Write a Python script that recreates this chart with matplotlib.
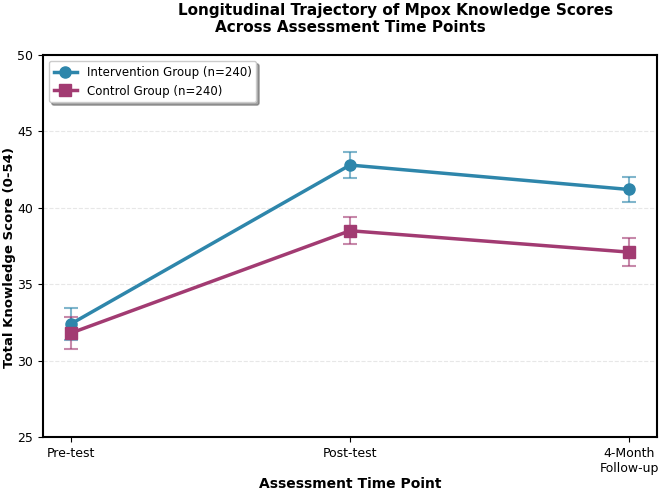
import numpy as np
import matplotlib.pyplot as plt

time_points = ["Pre-test", "Post-test", "4-Month\nFollow-up"]
intervention_mean = [32.4, 42.8, 41.2]
intervention_err = [1.05, 0.85, 0.85]
control_mean = [31.8, 38.5, 37.1]
control_err = [1.05, 0.9, 0.9]

blue = "#2E86AB"
purple = "#A23B72"

fig = plt.figure(figsize=(6.62, 4.92), dpi=100)
ax = fig.add_axes([0.065, 0.112, 0.9275, 0.776])

x = np.arange(len(time_points))

# lines + markers
ax.plot(x, intervention_mean, color=blue, marker="o", markersize=8, linewidth=2.5,
        label="Intervention Group (n=240)", zorder=3)
ax.plot(x, control_mean, color=purple, marker="s", markersize=8, linewidth=2.5,
        label="Control Group (n=240)", zorder=3)
# error bars, a bit lighter
ax.errorbar(x, intervention_mean, yerr=intervention_err, fmt="none", ecolor=blue,
            capsize=5, capthick=1.5, elinewidth=1.5, alpha=0.6, zorder=2)
ax.errorbar(x, control_mean, yerr=control_err, fmt="none", ecolor=purple,
            capsize=5, capthick=1.5, elinewidth=1.5, alpha=0.6, zorder=2)

ax.set_xlim(-0.1, 2.1)
ax.set_ylim(25, 50)
ax.set_xticks(x)
ax.set_xticklabels(time_points, fontsize=9)
ax.tick_params(axis="y", labelsize=9)
ax.yaxis.grid(True, linestyle="--", alpha=0.3)
ax.set_axisbelow(True)
for s in ax.spines.values():
    s.set_linewidth(1.5)

ax.set_xlabel("Assessment Time Point", fontsize=10, fontweight="bold", labelpad=2)
ax.set_ylabel("Total Knowledge Score (0-54)", fontsize=9.5, fontweight="bold")
ax.yaxis.set_label_coords(-0.044, 0.47)

ax.legend(loc="upper left", fontsize=8.5, frameon=True, shadow=True, fancybox=True)

fig.text(0.598, 0.9695, "Longitudinal Trajectory of Mpox Knowledge Scores",
         ha="center", va="baseline", fontsize=11, fontweight="bold")
fig.text(0.529, 0.935, "Across Assessment Time Points",
         ha="center", va="baseline", fontsize=11, fontweight="bold")

fig.savefig("out.png", dpi=100)
